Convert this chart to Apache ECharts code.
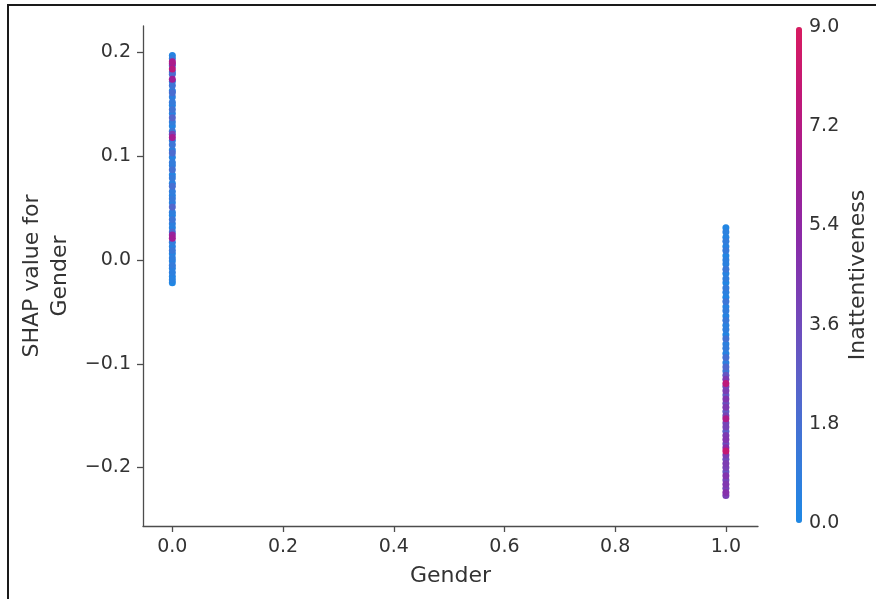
<!DOCTYPE html>
<html>
<head>
<meta charset="utf-8">
<script src="https://cdn.jsdelivr.net/npm/echarts@6/dist/echarts.min.js"></script>
<style>
  html, body { margin: 0; padding: 0; background: #fff; }
  #chart { width: 876px; height: 599px; }
</style>
</head>
<body>
<div id="chart"></div>
<script>
// SHAP dependence of Gender, coloured by Inattentiveness
const xTicks = [0, 0.2, 0.4, 0.6, 0.8, 1.0];
const yTicks = [-0.2, -0.1, 0.0, 0.1, 0.2];
const colorbarTicks = ['0.0', '1.8', '3.6', '5.4', '7.2', '9.0'];

// Gender = 0
const gender0Shap = [0.197, 0.194, 0.191, 0.189, 0.187, 0.184, 0.181, 0.179, 0.174, 0.172,
  0.168, 0.163, 0.161, 0.157, 0.152, 0.149, 0.145, 0.141, 0.137, 0.133,
  0.129, 0.124, 0.121, 0.118, 0.115, 0.111, 0.106, 0.103, 0.099, 0.094,
  0.091, 0.087, 0.082, 0.079, 0.074, 0.071, 0.066, 0.062, 0.059, 0.055,
  0.051, 0.046, 0.043, 0.039, 0.035, 0.031, 0.027, 0.024, 0.021, 0.017,
  0.013, 0.009, 0.006, 0.002, -0.001, -0.005, -0.008, -0.012, -0.016, -0.019,
  -0.022];
const gender0Inatt = [0.3, 0.9, 6.8, 5.9, 1.2, 7.4, 0.6, 2.1, 6.2, 0.8,
  1.5, 0.4, 1.9, 0.7, 1.1, 0.2, 1.6, 0.5, 2.4, 0.9,
  0.3, 1.3, 4.1, 6.5, 0.8, 1.4, 0.6, 2.0, 0.4, 1.0,
  0.7, 1.7, 0.2, 1.1, 0.5, 1.8, 0.9, 0.3, 1.2, 0.6,
  2.3, 0.8, 0.1, 1.4, 0.7, 0.4, 1.9, 5.8, 6.3, 0.9,
  0.5, 1.3, 0.2, 0.8, 0.4, 1.0, 0.3, 0.7, 0.2, 0.5,
  0.1];

// Gender = 1
const gender1Shap = [0.031, 0.027, 0.022, 0.018, 0.013, 0.009, 0.004, 0.000, -0.004, -0.009,
  -0.013, -0.018, -0.022, -0.027, -0.031, -0.036, -0.040, -0.045, -0.049, -0.054,
  -0.058, -0.063, -0.067, -0.072, -0.076, -0.081, -0.085, -0.090, -0.094, -0.099,
  -0.103, -0.107, -0.111, -0.115, -0.119, -0.122, -0.126, -0.130, -0.134, -0.138,
  -0.142, -0.146, -0.150, -0.153, -0.157, -0.161, -0.165, -0.169, -0.173, -0.177,
  -0.181, -0.184, -0.188, -0.192, -0.196, -0.200, -0.204, -0.208, -0.212, -0.216,
  -0.220, -0.224, -0.227];
const gender1Inatt = [0.2, 0.6, 0.3, 0.9, 0.4, 1.1, 0.2, 0.7, 0.5, 1.3,
  0.3, 0.8, 0.1, 1.0, 0.6, 0.2, 1.4, 0.4, 0.9, 0.3,
  1.2, 0.5, 0.8, 0.2, 1.6, 0.6, 1.0, 0.4, 1.8, 0.7,
  2.2, 1.3, 3.1, 4.4, 7.6, 3.6, 4.2, 2.8, 4.6, 3.3,
  4.4, 2.9, 4.0, 6.9, 3.7, 3.9, 2.6, 4.3, 4.6, 3.4,
  5.0, 8.0, 4.2, 3.5, 4.3, 4.0, 3.2, 4.7, 3.8, 4.5,
  3.9, 4.9, 4.1];

const points = [];
gender0Shap.forEach((v, i) => points.push([0, v, gender0Inatt[i]]));
gender1Shap.forEach((v, i) => points.push([1, v, gender1Inatt[i]]));
// higher feature values drawn on top
points.sort((a, b) => a[2] - b[2]);

const fontFamily = 'DejaVu Sans';
const textColor = '#333333';
const spineColor = '#4d4d4d';
const tickFont = 19;
const nameFont = 22;

const fmtTick = v => (v < 0 ? '\u2212' : '') + Math.abs(v).toFixed(1);

const chart = echarts.init(document.getElementById('chart'), null, { renderer: 'canvas' });
chart.setOption({
  backgroundColor: '#ffffff',
  animation: false,
  textStyle: { fontFamily: fontFamily },
  graphic: [{
    type: 'rect',
    shape: { x: 8, y: 5, width: 1000, height: 800 },
    style: { fill: 'none', stroke: '#1a1a1a', lineWidth: 2 },
    silent: true
  }],
  grid: [
    { left: 143, top: 26, width: 615, height: 500, containLabel: false, outerBoundsMode: 'none' },
    { left: 796, top: 27, width: 6, height: 496, containLabel: false, outerBoundsMode: 'none' }
  ],
  xAxis: [{
    type: 'value', gridIndex: 0,
    min: -0.053, max: 1.058,
    name: 'Gender', nameLocation: 'middle', nameGap: 39,
    nameTextStyle: { fontSize: nameFont, color: textColor, fontFamily: fontFamily },
    axisLine: { show: true, onZero: false, lineStyle: { color: spineColor, width: 1.3 } },
    axisTick: { show: true, length: 6, lineStyle: { color: spineColor, width: 1.3 }, customValues: xTicks },
    axisLabel: { fontSize: tickFont, color: textColor, margin: 12, customValues: xTicks,
      formatter: v => fmtTick(v) },
    splitLine: { show: false }
  }, {
    type: 'value', gridIndex: 1, min: 0, max: 1, show: false
  }],
  yAxis: [{
    type: 'value', gridIndex: 0,
    min: -0.2563, max: 0.2254,
    name: 'SHAP value for\nGender', nameLocation: 'middle', nameGap: 64,
    nameTextStyle: { fontSize: nameFont, color: textColor, lineHeight: 28, align: 'center', fontFamily: fontFamily },
    axisLine: { show: true, onZero: false, lineStyle: { color: spineColor, width: 1.3 } },
    axisTick: { show: true, length: 6, lineStyle: { color: spineColor, width: 1.3 }, customValues: yTicks },
    axisLabel: { fontSize: tickFont, color: textColor, margin: 12, customValues: yTicks,
      formatter: v => fmtTick(v) },
    splitLine: { show: false }
  }, {
    type: 'value', gridIndex: 1, position: 'right',
    min: 0, max: 5, interval: 1,
    name: 'Inattentiveness', nameLocation: 'middle', nameGap: 45, nameRotate: 90,
    nameTextStyle: { fontSize: nameFont, color: textColor, fontFamily: fontFamily },
    axisLine: { show: false },
    axisTick: { show: false },
    axisLabel: { fontSize: tickFont, color: textColor, margin: 7,
      formatter: v => colorbarTicks[v] },
    splitLine: { show: false }
  }],
  visualMap: {
    type: 'continuous',
    seriesIndex: 0,
    dimension: 2,
    min: 0, max: 9,
    left: 796, top: 27,
    itemWidth: 6, itemHeight: 496,
    padding: 0,
    text: null,
    showLabel: false,
    calculable: false,
    hoverLink: false,
    inRange: {
      color: ['#1E88E5', '#3A78D8', '#5A62C9', '#7545B8', '#8A2BA8', '#A41D93', '#C01878', '#D81B60']
    }
  },
  series: [{
    type: 'scatter',
    xAxisIndex: 0, yAxisIndex: 0,
    symbolSize: 7,
    data: points,
    itemStyle: { opacity: 1 }
  }]
});
</script>
</body>
</html>
